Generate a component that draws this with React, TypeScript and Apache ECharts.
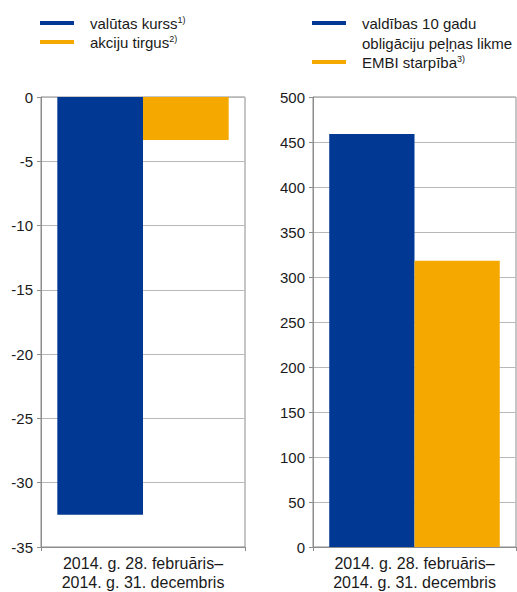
import React, { useEffect, useRef } from "react";
import * as echarts from "echarts";

const categories = ["2014. g. 28. februāris–\n2014. g. 31. decembris"];
const leftNames = ["valūtas kurss", "akciju tirgus"];
const leftSup = ["1)", "2)"];
const fxValues = [-32.5];
const equityValues = [-3.35];
const rightNames = ["valdības 10 gadu\nobligāciju peļņas likme", "EMBI starpība"];
const rightSup = ["", "3)"];
const bondYieldValues = [459];
const embiValues = [318];

const BLUE = "#003893";
const ORANGE = "#F5A800";
const FONT = "'Liberation Sans', Arial, sans-serif";
const TXT = "#1a1a1a";

export default function App() {
  const ref = useRef<HTMLDivElement>(null);
  useEffect(() => {
    document.body.style.margin = "0";
    const chart = echarts.init(ref.current!, undefined, { renderer: "svg" });
    const yAxisCommon = {
      axisLine: { show: true, lineStyle: { color: "#8c8c8c" } },
      axisTick: { show: true, length: 4, lineStyle: { color: "#8c8c8c" } },
      axisLabel: { color: TXT, fontSize: 15, fontFamily: FONT, margin: 8 },
      splitLine: { show: true, lineStyle: { color: "#b8b8b8" } },
    };
    const xAxisCommon = {
      type: "category" as const,
      data: categories,
      position: "bottom" as const,
      axisLine: { show: true, onZero: false, lineStyle: { color: "#8c8c8c" } },
      axisTick: { show: true, length: 4, lineStyle: { color: "#8c8c8c" } },
      axisLabel: { color: TXT, fontSize: 16, fontFamily: FONT, margin: 7, lineHeight: 19 },
    };
    const legendItem = (x: number, y: number, color: string, name: string, sup: string) => {
      const lines = name.split("\n");
      const txt = lines
        .map((l, i) => (i === lines.length - 1 && sup ? `{m|${l}}{s|${sup}}` : `{m|${l}}`))
        .join("\n");
      return [
        { type: "line", shape: { x1: x, y1: y, x2: x + 34, y2: y }, style: { stroke: color, lineWidth: 4 } },
        {
          type: "text",
          x: x + 50,
          y: y - 10,
          style: {
            text: txt,
            rich: {
              m: { fontSize: 15, fontFamily: FONT, fill: TXT, lineHeight: 20 },
              s: { fontSize: 9, fontFamily: FONT, fill: TXT, lineHeight: 20, padding: [0, 0, 7, 0] },
            },
          },
        },
      ];
    };
    chart.setOption({
      animation: false,
      grid: [
        { left: 41, right: 272, top: 97, bottom: 43, show: true, borderColor: "#8c8c8c", borderWidth: 1 },
        { left: 313, right: 1, top: 97, bottom: 43, show: true, borderColor: "#8c8c8c", borderWidth: 1 },
      ],
      xAxis: [
        { ...xAxisCommon, gridIndex: 0 },
        { ...xAxisCommon, gridIndex: 1 },
      ],
      yAxis: [
        { ...yAxisCommon, type: "value", gridIndex: 0, min: -35, max: 0, interval: 5 },
        { ...yAxisCommon, type: "value", gridIndex: 1, min: 0, max: 500, interval: 50 },
      ],
      series: [
        { type: "bar", name: leftNames[0], data: fxValues, xAxisIndex: 0, yAxisIndex: 0, itemStyle: { color: BLUE }, barGap: "0%", barCategoryGap: "16%" },
        { type: "bar", name: leftNames[1], data: equityValues, xAxisIndex: 0, yAxisIndex: 0, itemStyle: { color: ORANGE }, barGap: "0%", barCategoryGap: "16%" },
        { type: "bar", name: rightNames[0], data: bondYieldValues, xAxisIndex: 1, yAxisIndex: 1, itemStyle: { color: BLUE }, barGap: "0%", barCategoryGap: "16%" },
        { type: "bar", name: rightNames[1], data: embiValues, xAxisIndex: 1, yAxisIndex: 1, itemStyle: { color: ORANGE }, barGap: "0%", barCategoryGap: "16%" },
      ],
      graphic: [
        ...legendItem(40, 23, BLUE, leftNames[0], leftSup[0]),
        ...legendItem(40, 42, ORANGE, leftNames[1], leftSup[1]),
        ...legendItem(312, 23, BLUE, rightNames[0], rightSup[0]),
        ...legendItem(312, 62, ORANGE, rightNames[1], rightSup[1]),
      ],
    });
    return () => chart.dispose();
  }, []);
  return <div ref={ref} style={{ width: 517, height: 592 }} />;
}
